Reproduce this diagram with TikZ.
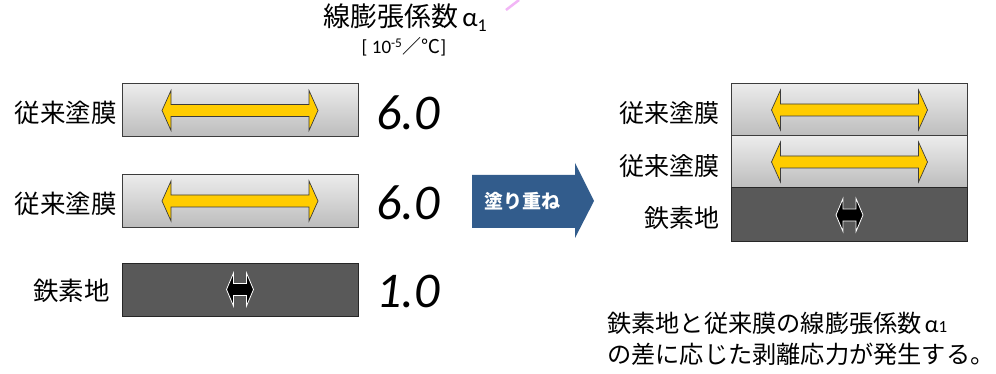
\documentclass[tikz,border=0pt]{standalone}
\usepackage{fontspec}
\setmainfont{Carlito}
\newfontfamily\cjk{Noto Sans CJK JP}
\definecolor{boxtop}{RGB}{236,236,236}
\definecolor{boxbot}{RGB}{188,188,188}
\definecolor{boxline}{RGB}{60,60,60}
\definecolor{iron}{RGB}{89,89,89}
\definecolor{yel}{RGB}{255,204,0}
\definecolor{navy}{RGB}{50,92,140}
\definecolor{pinkline}{RGB}{242,182,246}
\tikzset{
  film/.style={draw=boxline, line width=1pt, top color=boxtop, bottom color=boxbot,
    minimum width=236pt, minimum height=53pt, inner sep=0pt},
  ironbox/.style={draw=black!85, line width=1pt, fill=iron,
    minimum width=236pt, minimum height=53pt, inner sep=0pt},
  lbl/.style={font=\cjk\fontsize{25.5}{26}\selectfont, inner sep=0pt, anchor=east},
  num/.style={font=\fontsize{50}{50}\selectfont\itshape, inner sep=0pt, anchor=west},
  note/.style={font=\fontsize{24.2}{25}\selectfont, inner sep=0pt, anchor=west},
  pics/yarrow/.style={code={
    \draw[fill=yel, draw=boxline, line width=0.7pt]
      (-78,0) -- (-69,20) -- (-69,6) -- (69,6) -- (69,20) -- (78,0)
      -- (69,-20) -- (69,-6) -- (-69,-6) -- (-69,-20) -- cycle;}},
  pics/karrow/.style={code={
    \draw[fill=black, draw=white, line width=0.8pt]
      (-13.5,0) -- (-6.5,16.5) -- (-6.5,6) -- (6.5,6) -- (6.5,16.5) -- (13.5,0)
      -- (6.5,-16.5) -- (6.5,-6) -- (-6.5,-6) -- (-6.5,-16.5) -- cycle;}},
}
\begin{document}
\begin{tikzpicture}[x=1pt,y=-1pt]
\useasboundingbox[fill=white] (0,0) rectangle (996,374);

% title
\node[inner sep=0pt, font=\fontsize{27}{27}\selectfont] (title) at (405,18)
  {{\cjk 線膨張係数}\hspace{4pt}α\raisebox{-5pt}{\fontsize{18}{18}\selectfont 1}};
\node[inner sep=0pt, font=\fontsize{19}{19}\selectfont] (unit) at (404,47)
  {[ 10\textsuperscript{-5}{\cjk ／℃}]};
\coordinate (p1) at (506,10);
\coordinate (p2) at (519,0);
\draw[pinkline, line width=2.5pt] (p1) -- (p2);

% left column
\node[film] (L1) at (240,110.5) {};
\node[film] (L2) at (240,201) {};
\node[ironbox] (L3) at (240,289.5) {};
\path (L1.center) pic {yarrow};
\path (L2.center) pic {yarrow};
\path (L3.center) pic {karrow};
\node[lbl] (l1) at (117,113) {従来塗膜};
\node[lbl] (l2) at (117,204) {従来塗膜};
\node[lbl] (l3) at (110,291) {鉄素地};
\node[num] (n1) at (376,113) {6.0};
\node[num] (n2) at (376,203) {6.0};
\node[num] (n3) at (376,291) {1.0};

% blue arrow
\fill[navy] (472,175) -- (575,175) -- (575,163) -- (594,201) -- (575,238)
  -- (575,228) -- (472,228) -- cycle;
\node[inner sep=0pt, text=white, font=\cjk\bfseries\fontsize{19}{19}\selectfont] (coat) at (522,201) {塗り重ね};

% right stack
\node[film] (R1) at (849.5,110) {};
\node[film, minimum height=52pt] (R2) at (849.5,162) {};
\node[ironbox, minimum height=54pt] (R3) at (849.5,215) {};
\path (R1.center) pic {yarrow};
\path (R2.center) pic {yarrow};
\path (R3.center) pic {karrow};
\node[lbl, font=\cjk\fontsize{25}{25}\selectfont] (r1) at (720,113) {従来塗膜};
\node[lbl, font=\cjk\fontsize{25}{25}\selectfont] (r2) at (720,166) {従来塗膜};
\node[lbl, font=\cjk\fontsize{25}{25}\selectfont] (r3) at (720,218) {鉄素地};

% note
\node[note] (note1) at (607,323)
  {{\cjk 鉄素地と従来膜の線膨張係数}\hspace{3pt}α{\fontsize{17}{17}\selectfont 1}};
\node[note] (note2) at (607,354) {{\cjk の差に応じた剥離応力が発生する。}};
\end{tikzpicture}
\end{document}
